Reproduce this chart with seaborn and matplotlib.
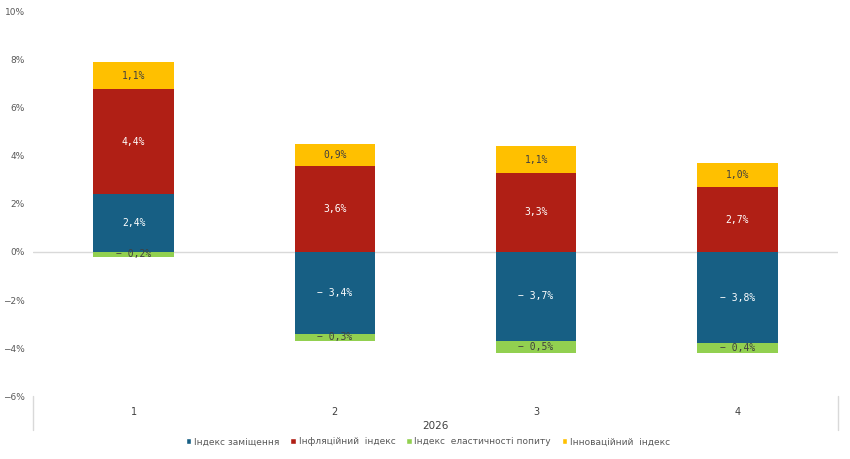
import pandas as pd
import matplotlib.pyplot as plt
import seaborn as sns
from matplotlib.patches import Patch

quarters = ['1', '2', '3', '4']
year = '2026'
zamishchennia = [2.4, -3.4, -3.7, -3.8]   # Індекс заміщення
infliatsiinyi = [4.4, 3.6, 3.3, 2.7]      # Інфляційний індекс
elastychnist = [-0.2, -0.3, -0.5, -0.4]   # Індекс еластичності попиту
innovatsiinyi = [1.1, 0.9, 1.1, 1.0]      # Інноваційний індекс

names = ['Індекс заміщення', 'Інфляційний  індекс',
         'Індекс  еластичності попиту', 'Інноваційний  індекс']
colors = ['#175f84', '#b01f15', '#92d050', '#ffc000']
txt_colors = ['white', 'white', '#404040', '#404040']

df = pd.DataFrame({'q': quarters, 'blue': zamishchennia, 'red': infliatsiinyi,
                   'green': elastychnist, 'yellow': innovatsiinyi})
df['pos_base'] = df['blue'].clip(lower=0)
df['neg_base'] = df['blue'].clip(upper=0)
df['red_top'] = df['pos_base'] + df['red']
df['yellow_top'] = df['red_top'] + df['yellow']
df['green_bot'] = df['neg_base'] + df['green']

sns.set_style('white')
fig = plt.figure(figsize=(8.5, 4.59), dpi=100)
ax = fig.add_axes([33 / 850, (459 - 396) / 459, 805 / 850, 384 / 459])

w = 0.4
# stacked by drawing cumulative totals first, then smaller ones over them
for col, c in [('green_bot', colors[2]), ('yellow_top', colors[3]),
               ('red_top', colors[1]), ('blue', colors[0])]:
    sns.barplot(data=df, x='q', y=col, color=c, width=w, saturation=1,
                linewidth=0, ax=ax)

def fmt(v):
    s = f'{abs(v):.1f}'.replace('.', ',') + '%'
    return ('− ' + s) if v < 0 else s

mono = 'DejaVu Sans Mono'
for i, r in df.iterrows():
    segs = [(r['blue'] / 2, r['blue'], 0),
            ((r['pos_base'] + r['red_top']) / 2, r['red'], 1),
            ((r['neg_base'] + r['green_bot']) / 2, r['green'], 2),
            ((r['red_top'] + r['yellow_top']) / 2, r['yellow'], 3)]
    for y, v, k in segs:
        ax.text(i, y, fmt(v), ha='center', va='center', fontsize=7,
                family=mono, color=txt_colors[k])

ax.axhline(0, color='#d9d9d9', lw=1, zorder=0.5)
ax.set_ylim(-6, 10)
ax.set_xlim(-0.5, 3.5)
ax.set_yticks(range(-6, 11, 2))
ax.set_yticklabels([f'{t}%'.replace('-', '−') for t in range(-6, 11, 2)],
                   fontsize=6.5, color='#595959')
ax.tick_params(axis='y', length=0, pad=6)
ax.set_xticks(range(4))
ax.set_xticklabels(quarters, fontsize=7, color='#404040')
ax.tick_params(axis='x', length=0, pad=8)
ax.set_xlabel(year, fontsize=7.5, color='#404040', labelpad=3)
ax.set_ylabel('')
for s in ax.spines.values():
    s.set_visible(False)

for xa in (0, 1):
    ax.plot([xa, xa], [0, -34 / 384], transform=ax.transAxes, color='#d9d9d9',
            lw=1, clip_on=False)

handles = [Patch(facecolor=c, label=n) for c, n in zip(colors, names)]
fig.legend(handles=handles, loc='center', bbox_to_anchor=(428 / 850, 1 - 442 / 459),
           ncol=4, frameon=False, fontsize=6.5, handlelength=0.6, handleheight=0.6,
           handletextpad=0.3, columnspacing=1.2, labelcolor='#595959')

fig.savefig('out.png', dpi=100)
